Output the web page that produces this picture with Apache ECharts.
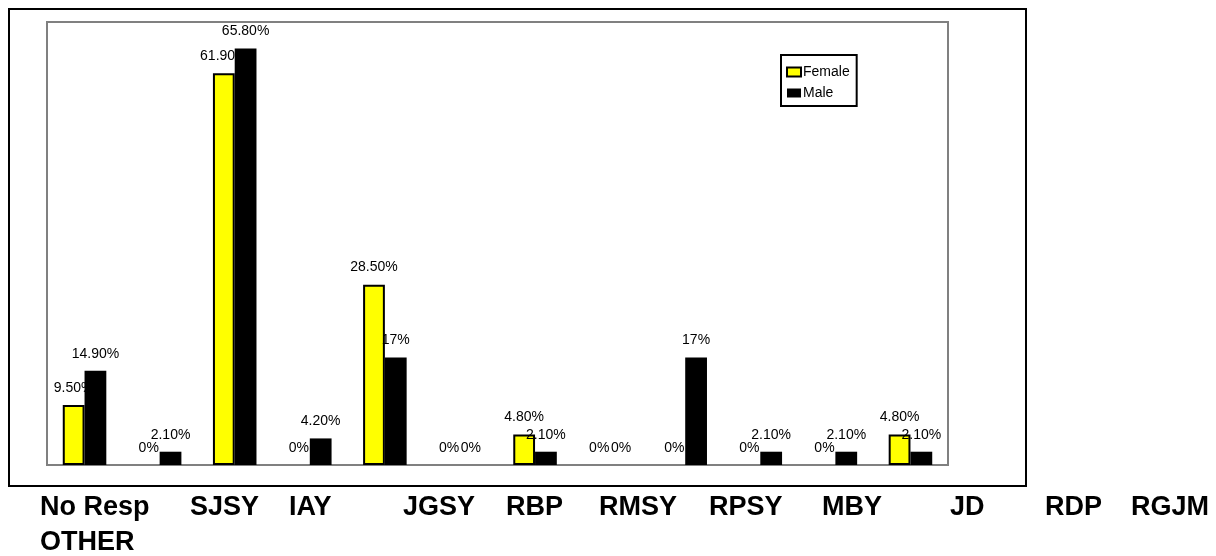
<!DOCTYPE html>
<html>
<head>
<meta charset="utf-8">
<script src="https://cdn.jsdelivr.net/npm/echarts@6/dist/echarts.min.js"></script>
<style>
  html, body { margin: 0; padding: 0; background: #fff; }
  #chart { width: 1216px; height: 556px; }
</style>
</head>
<body>
<div id="chart"></div>
<script>
// Scheme categories
const categories = ['No Resp', 'SJSY', 'IAY', 'JGSY', 'RBP', 'RMSY', 'RPSY', 'MBY', 'JD', 'RDP', 'RGJM', 'OTHER'];
// Share of respondents (%) per scheme
const female = [9.5, 0, 61.9, 0, 28.5, 0, 4.8, 0, 0, 0, 0, 4.8];
const male   = [14.9, 2.1, 65.8, 4.2, 17, 0, 2.1, 0, 17, 2.1, 2.1, 2.1];
// Value axis range
const yMax = 70;

// Where each category name sits in the caption block under the chart
const captionX = [40, 190, 289, 403, 506, 599, 709, 822, 950, 1045, 1131, 40];
const captionLine = [0, 0, 0, 0, 0, 0, 0, 0, 0, 0, 0, 1];

const fmtPct = v => (Number.isInteger(v) ? String(v) : v.toFixed(2)) + '%';
const FONT = 'Liberation Sans, Arial, Helvetica, sans-serif';

const barLabel = {
  show: true,
  position: 'top',
  distance: 10,
  fontFamily: FONT,
  fontSize: 14,
  color: '#000',
  formatter: p => fmtPct(p.value)
};

// zero-height bars get no outline so only their label shows
const withOutline = (values, width) => values.map(v => ({
  value: v,
  itemStyle: { borderWidth: v === 0 ? 0 : width }
}));

const chart = echarts.init(document.getElementById('chart'), null, { renderer: 'canvas' });

chart.setOption({
  animation: false,
  backgroundColor: '#fff',
  grid: {
    left: 47, top: 22, right: 268, bottom: 91,
    show: true, borderColor: '#808080', borderWidth: 2, backgroundColor: 'transparent'
  },
  legend: {
    orient: 'vertical',
    left: 781, top: 55,
    padding: [10, 7, 6, 5],
    itemGap: 7,
    itemWidth: 14, itemHeight: 9,
    icon: 'rect',
    backgroundColor: '#fff',
    borderColor: '#000', borderWidth: 2,
    textStyle: { fontFamily: FONT, fontSize: 14, color: '#000', padding: [0, 0, 0, -3] },
    data: ['Female', 'Male']
  },
  xAxis: {
    type: 'category',
    data: categories,
    axisLine: { show: false },
    axisTick: { show: false },
    axisLabel: { show: false },
    splitLine: { show: false }
  },
  yAxis: {
    type: 'value',
    min: 0, max: yMax,
    axisLine: { show: false },
    axisTick: { show: false },
    axisLabel: { show: false },
    splitLine: { show: false }
  },
  series: [
    {
      name: 'Female',
      type: 'bar',
      data: withOutline(female, 2),
      barWidth: '29%',
      barGap: '0%',
      itemStyle: { color: '#ffff00', borderColor: '#000', borderWidth: 2 },
      label: barLabel
    },
    {
      name: 'Male',
      type: 'bar',
      data: withOutline(male, 0),
      barWidth: '29%',
      itemStyle: { color: '#000', borderColor: '#000', borderWidth: 0 },
      label: barLabel
    }
  ],
  graphic: [
    // outer frame around the chart
    {
      type: 'rect',
      shape: { x: 9, y: 9, width: 1017, height: 477 },
      style: { fill: 'none', stroke: '#000', lineWidth: 2 },
      silent: true,
      z: -1
    }
  ].concat(categories.map((name, i) => ({
    type: 'text',
    x: captionX[i],
    y: 508 + captionLine[i] * 35,
    style: {
      text: name,
      fontFamily: FONT,
      fontWeight: 'bold',
      fontSize: 27,
      fill: '#000',
      verticalAlign: 'middle',
      align: 'left'
    }
  })))
});
</script>
</body>
</html>
